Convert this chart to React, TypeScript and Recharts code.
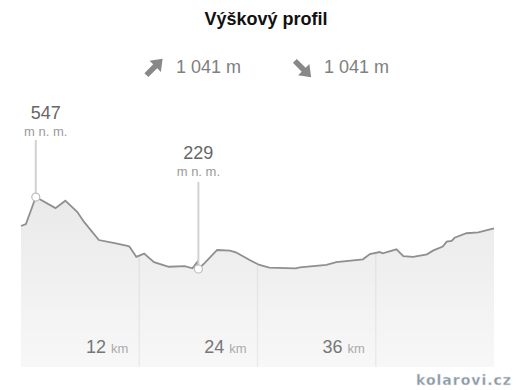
import React from 'react';
import { AreaChart, Area, XAxis, YAxis, CartesianGrid, ReferenceDot } from 'recharts';

const distanceKm = [0, 0.5, 1.5, 3.5, 4.5, 5.7, 6.4, 7.9, 9.5, 10.8, 11.0, 11.7, 12.5, 13.5, 15.0, 16.6, 17.4, 17.9, 18.0, 18.6, 19.9, 21.2, 21.8, 23.2, 24.2, 25.2, 26.9, 27.9, 28.3, 31.0, 32.0, 34.7, 35.4, 36.4, 36.7, 38.1, 38.8, 39.8, 41.2, 41.8, 42.8, 43.2, 43.7, 44.0, 45.2, 46.4, 48.0];
const elevationM = [419, 428, 547, 498, 531, 482, 437, 357, 343, 331, 328, 283, 297, 259, 239, 242, 232, 261, 229, 254, 313, 310, 303, 269, 247, 235, 233, 232, 236, 247, 259, 272, 295, 304, 298, 316, 286, 283, 294, 310, 328, 350, 353, 367, 387, 391, 409];
const xTicksKm = [12, 24, 36];
const xDomainKm = [0, 48];
const yDomainM = [-204, 1020];
const titleText = 'Výškový profil';
const ascentText = '1 041 m';
const descentText = '1 041 m';
const unitKm = 'km';
const unitAltitude = 'm n. m.';
const maxPoint = { km: 1.5, elev: 547 };
const minPoint = { km: 18.0, elev: 229 };
const watermark = 'kolarovi.cz';

const data = distanceKm.map((km, i) => ({ km, elev: elevationM[i], above: [elevationM[i], yDomainM[1]] }));

const FONT = '"Liberation Sans", Arial, sans-serif';

const KmTick = (props: any) => {
  const { x, y, payload } = props;
  return (
    <text x={x - 11} y={y - 14} textAnchor="end" fontFamily={FONT}>
      <tspan fontSize={18} fill="#777">{payload.value}</tspan>
      <tspan fontSize={13} fill="#aaa" dx={5}>{unitKm}</tspan>
    </text>
  );
};

const Marker = (props: any) => {
  const { cx, cy, lineLen, unitOff, valueOff, dx, value } = props;
  if (cx == null || cy == null) return null;
  return (
    <g>
      <line x1={cx} x2={cx} y1={cy - lineLen} y2={cy - 4} stroke="#d2d2d2" strokeWidth={2} />
      <circle cx={cx} cy={cy} r={4} fill="#fff" stroke="#bdbdbd" strokeWidth={1.2} />
      <text x={cx + dx} y={cy - valueOff} textAnchor="middle" fontFamily={FONT} fontSize={18} fill="#666">{value}</text>
      <text x={cx + dx} y={cy - unitOff} textAnchor="middle" fontFamily={FONT} fontSize={13} fill="#9a9a9a">{unitAltitude}</text>
    </g>
  );
};

const Arrow = ({ cx, cy, angle }: { cx: number; cy: number; angle: number }) => (
  <polygon
    points="-11.5,-2.8 1,-2.8 1,-8 11.5,0 1,8 1,2.8 -11.5,2.8"
    fill="#888"
    transform={`translate(${cx},${cy}) rotate(${angle})`}
  />
);

const gridGen = (args: any) => {
  const { xAxis, offset } = args;
  if (xAxis && typeof xAxis.scale === 'function') {
    return xTicksKm.map((t) => xAxis.scale(t));
  }
  return xTicksKm.map((t) => offset.left + ((t - xDomainKm[0]) / (xDomainKm[1] - xDomainKm[0])) * offset.width);
};

export default function App() {
  return (
    <div style={{ position: 'absolute', left: 0, top: 0, width: 516, height: 390, background: '#fff' }}>
      <svg width={516} height={390} style={{ position: 'absolute', left: 0, top: 0, pointerEvents: 'none' }}>
        <defs>
          <linearGradient id="elevFill" x1="0" y1="0" x2="0" y2="1">
            <stop offset="0" stopColor="#000" stopOpacity={0.085} />
            <stop offset="1" stopColor="#000" stopOpacity={0.03} />
          </linearGradient>
        </defs>
        <text x={266} y={25} textAnchor="middle" fontFamily={FONT} fontWeight="bold" fontSize={18} fill="#111">{titleText}</text>
        <Arrow cx={154.5} cy={67} angle={-45} />
        <text x={176} y={73} fontFamily={FONT} fontSize={18} fill="#808080">{ascentText}</text>
        <Arrow cx={303} cy={69} angle={45} />
        <text x={324} y={73} fontFamily={FONT} fontSize={18} fill="#808080">{descentText}</text>
        <text x={512} y={385} textAnchor="end" fontFamily='"DejaVu Sans", Verdana, sans-serif' fontWeight="bold" fontSize={14} letterSpacing={1} fill="#8896a2" stroke="#e6eaee" strokeWidth={0.4}>{watermark}</text>
      </svg>
      <div style={{ position: 'absolute', left: 0, top: 0 }}>
        <AreaChart width={516} height={390} data={data} margin={{ top: 90, right: 22, bottom: 0, left: 21 }}>
          <CartesianGrid vertical horizontal={false} stroke="#f2f2f2" strokeWidth={1.5} verticalCoordinatesGenerator={gridGen} />
          <XAxis dataKey="km" type="number" domain={xDomainKm} ticks={xTicksKm} interval={0} axisLine={false} tickLine={false} tickSize={0} tickMargin={0} height={23} tick={<KmTick />} />
          <YAxis hide type="number" domain={yDomainM} allowDataOverflow />
          <Area type="linear" dataKey="above" stroke="none" fill="#fff" fillOpacity={1} isAnimationActive={false} activeDot={false} dot={false} />
          <Area type="linear" dataKey="elev" baseValue="dataMin" stroke="#8f8f8f" strokeWidth={1.8} fill="url(#elevFill)" fillOpacity={1} isAnimationActive={false} activeDot={false} dot={false} />
          <ReferenceDot x={maxPoint.km} y={maxPoint.elev} r={4} shape={(p: any) => <Marker {...p} lineLen={57} unitOff={61} valueOff={78} dx={10} value={maxPoint.elev} />} />
          <ReferenceDot x={minPoint.km} y={minPoint.elev} r={4} shape={(p: any) => <Marker {...p} lineLen={87} unitOff={93} valueOff={110} dx={0} value={minPoint.elev} />} />
        </AreaChart>
      </div>
    </div>
  );
}
